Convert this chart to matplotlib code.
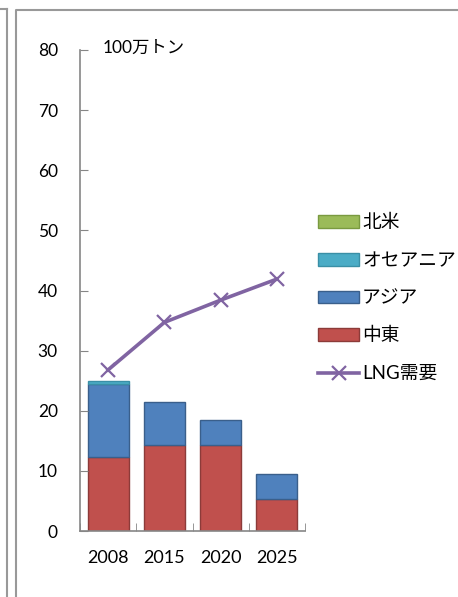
import numpy as np
import matplotlib.pyplot as plt
from matplotlib.patches import Patch
from matplotlib.lines import Line2D

plt.rcParams['font.family'] = ['Lato', 'Noto Sans CJK JP', 'DejaVu Sans']

# LNG supply by region (million tonnes) and total LNG demand
years = ['2008', '2015', '2020', '2025']
middle_east = [12.3, 14.3, 14.3, 5.3]
asia = [12.1, 7.2, 4.2, 4.2]
oceania = [0.5, 0.0, 0.0, 0.0]
north_america = [0.0, 0.0, 0.0, 0.0]
lng_demand = [26.8, 34.7, 38.4, 41.9]

series_names = ['中東', 'アジア', 'オセアニア', '北米']
series_colors = ['#C0504D', '#4F81BD', '#4BACC6', '#9BBB59']
series_edges = ['#8C3B39', '#3A5F8B', '#3A8FA6', '#7A9A40']
line_color = '#8064A2'
axis_gray = '#868686'

fig = plt.figure(figsize=(4.58, 5.97), dpi=100)
ax = fig.add_axes([80 / 458, 1 - 531 / 597, 225 / 458, 481 / 597])

x = np.arange(len(years))
bottom = np.zeros(len(years))
for vals, col, ec in zip([middle_east, asia, oceania, north_america],
                         series_colors, series_edges):
    vals = np.array(vals)
    keep = vals > 0  # empty segments would leave a stray edge line
    ax.bar(x[keep], vals[keep], width=0.73, bottom=bottom[keep], color=col,
           edgecolor=ec, linewidth=1)
    bottom += vals

ax.plot(x, lng_demand, color=line_color, linewidth=2.6, marker='x',
        markersize=10, markeredgewidth=1.6)

ax.set_xlim(-0.5, len(years) - 0.5)
ax.set_ylim(0, 80)
ax.set_yticks(np.arange(0, 81, 10))
ax.tick_params(axis='y', direction='in', length=6, color=axis_gray,
               pad=16, labelsize=12.5)
ax.set_xticks(x)
ax.set_xticklabels(years)
ax.tick_params(axis='x', which='major', length=0, pad=14, labelsize=13)
ax.set_xticks(np.arange(-0.5, len(years), 1.0), minor=True)
ax.tick_params(axis='x', which='minor', direction='in', length=6,
               color=axis_gray)

for side in ['top', 'right']:
    ax.spines[side].set_visible(False)
for side in ['left', 'bottom']:
    ax.spines[side].set_color(axis_gray)
    ax.spines[side].set_linewidth(1.2)

fig.text(103 / 458, 1 - 48 / 597, '100万トン', fontsize=12.5, va='center',
         ha='left')

handles = [Patch(facecolor=c, edgecolor=e) for c, e in
           zip(series_colors[::-1], series_edges[::-1])]
handles.append(Line2D([], [], color=line_color, linewidth=2.6, marker='x',
                      markersize=10, markeredgewidth=1.6))
labels = series_names[::-1] + ['LNG需要']
fig.legend(handles, labels, loc='upper left',
           bbox_to_anchor=(318 / 458, 1 - 214 / 597), frameon=False,
           fontsize=13.5, handlelength=2.2, handleheight=0.65,
           handletextpad=0.15, labelspacing=1.1, borderpad=0,
           borderaxespad=0)

# outer frame lines
fig.add_artist(Line2D([7 / 458, 7 / 458], [0, 1 - 9 / 597],
                      transform=fig.transFigure, color='#999999', lw=1.5))
fig.add_artist(Line2D([0, 7 / 458], [1 - 9 / 597, 1 - 9 / 597],
                      transform=fig.transFigure, color='#999999', lw=1.5))
fig.add_artist(Line2D([16 / 458, 16 / 458, 457 / 458],
                      [0, 1 - 10 / 597, 1 - 10 / 597],
                      transform=fig.transFigure, color='#999999', lw=1.5))

fig.savefig('out.png', dpi=100)
